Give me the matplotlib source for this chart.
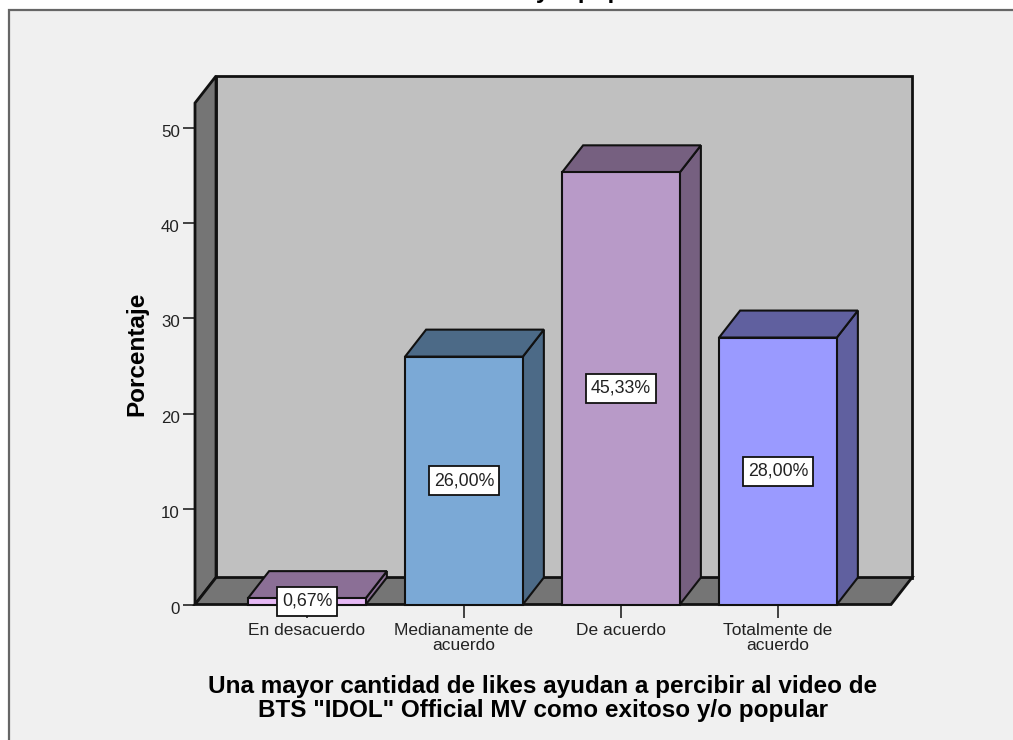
import matplotlib
matplotlib.use("Agg")
import matplotlib.pyplot as plt
from matplotlib.lines import Line2D
from matplotlib.patches import Polygon, Rectangle
from matplotlib.transforms import ScaledTranslation

plt.rcParams['font.family'] = ['Liberation Sans', 'DejaVu Sans']

categorias = ["En desacuerdo", "Medianamente de\nacuerdo", "De acuerdo", "Totalmente de\nacuerdo"]
porcentajes = [0.67, 26.00, 45.33, 28.00]
marcas_y = [0, 10, 20, 30, 40, 50]
color_frente = ["#e6b9f5", "#7ba9d6", "#b89ac8", "#9a9aff"]
color_lado = ["#8b6f96", "#4c6a87", "#766080", "#60609f"]

W, H = 1013, 740
ANCHO = 0.375   # half width of a bar, in category units
DX, DY = 0.134, 2.83   # depth of the 3D box, in data units
XMIN, XMAX = -0.713, 3.72
YMAX = 52.6

fig = plt.figure(figsize=(W / 100, H / 100), dpi=100, facecolor="white")

# grey panel with the dark edge on top and left only
fig.add_artist(Rectangle((9 / W, 0), 1 - 9 / W, 1 - 9 / H, transform=fig.transFigure,
                         facecolor="#f0f0f0", edgecolor="none", zorder=-5))
fig.add_artist(Line2D([9.2 / W, 9.2 / W, 1], [0, 1 - 9.5 / H, 1 - 9.5 / H],
                      color="#666666", lw=1.6, solid_joinstyle="miter"))

# second line of the title, cut off by the top of the image
fig.text(667 / W, 1 + 2 / H, 'BTS "IDOL" Official MV como exitoso y/o popular',
         ha="right", va="baseline", fontsize=17.5, fontweight="bold", color="black")

ax = fig.add_axes([195 / W, 1 - 604.5 / H, (891 - 195) / W, (604.5 - 103) / H])
ax.set_xlim(XMIN, XMAX)
ax.set_ylim(0, YMAX)
ax.patch.set_visible(False)
for s in ax.spines.values():
    s.set_visible(False)


def poly(puntos, color, z, lw=1.5):
    ax.add_patch(Polygon(puntos, closed=True, facecolor=color, edgecolor="#111111",
                         lw=lw, joinstyle="miter", clip_on=False, zorder=z))


# walls and floor
poly([(XMIN + DX, DY), (XMAX + DX, DY), (XMAX + DX, YMAX + DY), (XMIN + DX, YMAX + DY)], "#c0c0c0", 1, 2)
poly([(XMIN, 0), (XMIN + DX, DY), (XMIN + DX, YMAX + DY), (XMIN, YMAX)], "#757575", 2, 2)
poly([(XMIN, 0), (XMAX, 0), (XMAX + DX, DY), (XMIN + DX, DY)], "#757575", 2, 2)

# bars
renderer = fig.canvas.get_renderer()
for i, v in enumerate(porcentajes):
    x0, x1 = i - ANCHO, i + ANCHO
    poly([(x1, 0), (x1 + DX, DY), (x1 + DX, v + DY), (x1, v)], color_lado[i], 3 + i)
    poly([(x0, v), (x1, v), (x1 + DX, v + DY), (x0 + DX, v + DY)], color_lado[i], 3 + i)
    poly([(x0, 0), (x1, 0), (x1, v), (x0, v)], color_frente[i], 3 + i)
    t = ax.text(i, v / 2, f"{v:.2f}%".replace(".", ","), ha="center", va="center",
                fontsize=12.8, color="#222222", zorder=11)
    # white label box, a bit taller than the text
    ext = t.get_window_extent(renderer).transformed(ax.transData.inverted())
    mitad = ext.width / 2 + 0.03
    ax.add_patch(Rectangle((i - mitad, v / 2 - 1.52), 2 * mitad, 3.04, facecolor="white",
                           edgecolor="#111111", lw=1.3, clip_on=False, zorder=10))

ax.set_yticks(marcas_y)
ax.set_xticks(range(len(categorias)))
ax.set_xticklabels(categorias, fontsize=12.5, color="#222222", linespacing=1.03)
ax.tick_params(axis="y", length=9, width=1.3, color="#333333", labelsize=12.2, labelcolor="#222222", pad=2)
ax.tick_params(axis="x", length=9, width=1.3, color="#333333", pad=4)
# numbers sit slightly below their tick marks
for lab in ax.get_yticklabels():
    lab.set_transform(lab.get_transform() + ScaledTranslation(0, -3 / 100, fig.dpi_scale_trans))
ax.set_ylabel("Porcentaje", fontsize=17.5, fontweight="bold", labelpad=9)
ax.set_xlabel('Una mayor cantidad de likes ayudan a percibir al video de\nBTS "IDOL" Official MV como exitoso y/o popular',
              fontsize=17.5, fontweight="bold", labelpad=16, linespacing=1.07)

fig.savefig("out.png", dpi=100, facecolor=fig.get_facecolor())
